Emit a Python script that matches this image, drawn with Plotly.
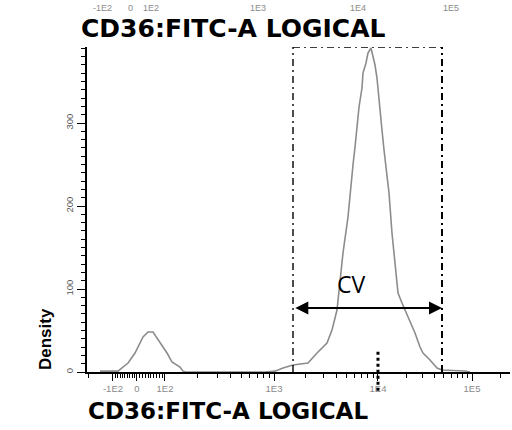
import math
import plotly.graph_objects as go

# ---- data (display channel units on a 0..1024 logicle-like scale) ----
hist_x = [31.5, 75.0, 99.3, 116.2, 135.6, 147.7, 159.8, 176.7, 193.7, 205.8, 225.1, 232.4, 239.7,
          430.9, 455.1, 474.5, 498.7, 535.0, 556.8, 581.0, 593.1, 605.2, 612.5, 619.7, 631.8,
          639.1, 643.9, 648.8, 653.6, 658.5, 665.7, 668.1, 675.4, 680.2, 687.5, 692.3, 697.2,
          702.0, 704.5, 709.3, 714.1, 719.0, 726.2, 731.1, 738.3, 745.6, 752.9, 762.6, 769.8,
          781.9, 794.0, 806.1, 813.4, 830.3, 847.3, 859.4, 915.1, 927.2]
hist_y = [1, 1, 10.8, 22.9, 42.2, 48.2, 48.2, 36.1, 22.9, 12.0, 6.0, 1.0, 0,
          0, 1, 4.8, 8.4, 10.8, 22.9, 34.9, 50.6, 74.7, 107.2, 143.4, 186.7,
          227.7, 249.4, 271.1, 295.2, 319.3, 342.2, 360.2, 372.3, 384.3, 390.4, 381.9, 369.9,
          354.2, 339.8, 315.7, 291.6, 267.5, 239.8, 215.7, 167.5, 126.5, 95.2, 83.1, 74.7,
          59.0, 47.0, 30.1, 22.9, 14.5, 4.8, 2.4, 1.2, 0]

x_tick_vals = [62.9, 121.0, 188.8, 452.7, 704.4, 932.0]
x_tick_text = ["-1E2", "0", "1E2", "1E3", "1E4", "1E5"]
y_tick_vals = [0, 100, 200, 300]
y_tick_text = ["0", "100", "200", "300"]

top_label_x = [36.3, 104.1, 154.9, 414.0, 656.0, 881.0]
top_label_text = ["-1E2", "0", "1E2", "1E3", "1E4", "1E5"]

gate_left, gate_right = 498.7, 859.4
cv_level = 77.1
cv_label_x, cv_label_y = 639, 106
marker_channel = 704.4
axis_title = "CD36:FITC-A LOGICAL"

X_MAX, Y_MAX = 1024, 391.6

# ---- minor ticks derived from the decade tick positions ----
c_neg, c0, c_pos = x_tick_vals[0], x_tick_vals[1], x_tick_vals[2]
minor = []
for k in range(1, 10):
    minor.append(c0 + (c_pos - c0) * k / 10)
    minor.append(c0 - (c0 - c_neg) * k / 10)
minor.append(c0 - 2 * (c0 - c_neg))
decades = [c_pos, x_tick_vals[3], x_tick_vals[4], x_tick_vals[5]]
for a, b in zip(decades[:-1], decades[1:]):
    for k in range(2, 10):
        minor.append(a + (b - a) * math.log10(k))
step = x_tick_vals[5] - x_tick_vals[4]
minor.append(x_tick_vals[5] + step * math.log10(2))

fig = go.Figure()
fig.add_trace(go.Scatter(x=hist_x, y=hist_y, mode="lines",
                         line=dict(color="#8c8c8c", width=1.6), hoverinfo="skip",
                         showlegend=False))

small = "Liberation Sans, Arial"
fig.update_layout(
    width=512, height=430,
    margin=dict(l=87, r=2, t=47, b=58),
    paper_bgcolor="white", plot_bgcolor="white",
    xaxis=dict(range=[0, X_MAX], tickmode="array", tickvals=x_tick_vals, ticktext=x_tick_text,
               ticks="outside", ticklen=7, tickwidth=1.3, tickcolor="black",
               showline=True, linecolor="black", linewidth=1.6, showgrid=False, zeroline=False,
               tickfont=dict(family=small, size=9.5, color="#8a8a8a"),
               minor=dict(tickvals=minor, ticks="outside", ticklen=4, tickwidth=1.3,
                          tickcolor="black", showgrid=False)),
    yaxis=dict(range=[0, Y_MAX], tickmode="array", tickvals=y_tick_vals, ticktext=y_tick_text,
               ticks="outside", ticklen=8, tickwidth=1.3, tickcolor="black", tickangle=-90,
               showline=True, linecolor="black", linewidth=1.8, showgrid=False, zeroline=False,
               tickfont=dict(family=small, size=9.5, color="#555555"),
               minor=dict(dtick=10, ticks="outside", ticklen=4, tickwidth=1.3,
                          tickcolor="black", showgrid=False)),
)

# gate (dash-dot rectangle, open at the bottom)
dd = "7px,4px,2px,4px"
fig.add_shape(type="line", x0=gate_left, x1=gate_left, y0=0, y1=Y_MAX, xref="x", yref="y",
              line=dict(color="black", width=1.4, dash=dd))
fig.add_shape(type="line", x0=gate_right, x1=gate_right, y0=0, y1=Y_MAX, xref="x", yref="y",
              line=dict(color="black", width=2, dash=dd))
fig.add_shape(type="line", x0=gate_left, x1=gate_right, y0=Y_MAX, y1=Y_MAX, xref="x", yref="y",
              line=dict(color="black", width=1.6, dash=dd))

# CV double arrow
fig.add_annotation(x=gate_right, y=cv_level, ax=gate_left + 2, ay=cv_level, xref="x", yref="y",
                   axref="x", ayref="y", text="", showarrow=True, arrowside="end+start",
                   arrowhead=2, startarrowhead=2, arrowsize=1.3, startarrowsize=1.3,
                   arrowwidth=2, arrowcolor="black")
fig.add_annotation(x=cv_label_x, y=cv_label_y, xref="x", yref="y", text="CV", showarrow=False,
                   xanchor="center", yanchor="middle",
                   font=dict(family="Open Sans, Arial", size=23, color="black"))

# dotted marker at 1E4
fig.add_shape(type="line", x0=marker_channel, x1=marker_channel, y0=0.062, y1=-0.062,
              xref="x", yref="paper", line=dict(color="black", width=3, dash="dot"))

# axis titles
fig.add_annotation(x=0.346, y=1.058, xref="paper", yref="paper", text="<b>" + axis_title + "</b>",
                   xanchor="center", yanchor="middle", showarrow=False,
                   font=dict(family="DejaVu Sans, Liberation Sans", size=25, color="black"))
fig.add_annotation(x=0.3345, y=-0.12, xref="paper", yref="paper", text="<b>" + axis_title + "</b>",
                   xanchor="center", yanchor="middle", showarrow=False,
                   font=dict(family="DejaVu Sans, Liberation Sans", size=23, color="black"))
fig.add_annotation(x=-0.0993, y=0.0, xref="paper", yref="paper", text="<b>Density</b>",
                   textangle=-90, xanchor="center", yanchor="bottom", showarrow=False,
                   font=dict(family="Liberation Sans, Arial", size=17, color="black"))

# tick labels of the panel above (at the very top edge)
for tx, tt in zip(top_label_x, top_label_text):
    fig.add_annotation(x=tx, y=1.0, yshift=46, xref="x", yref="paper", text=tt, showarrow=False,
                       xanchor="center", yanchor="top",
                       font=dict(family=small, size=9, color="#8a8a8a"))

fig.write_html("out.html")
